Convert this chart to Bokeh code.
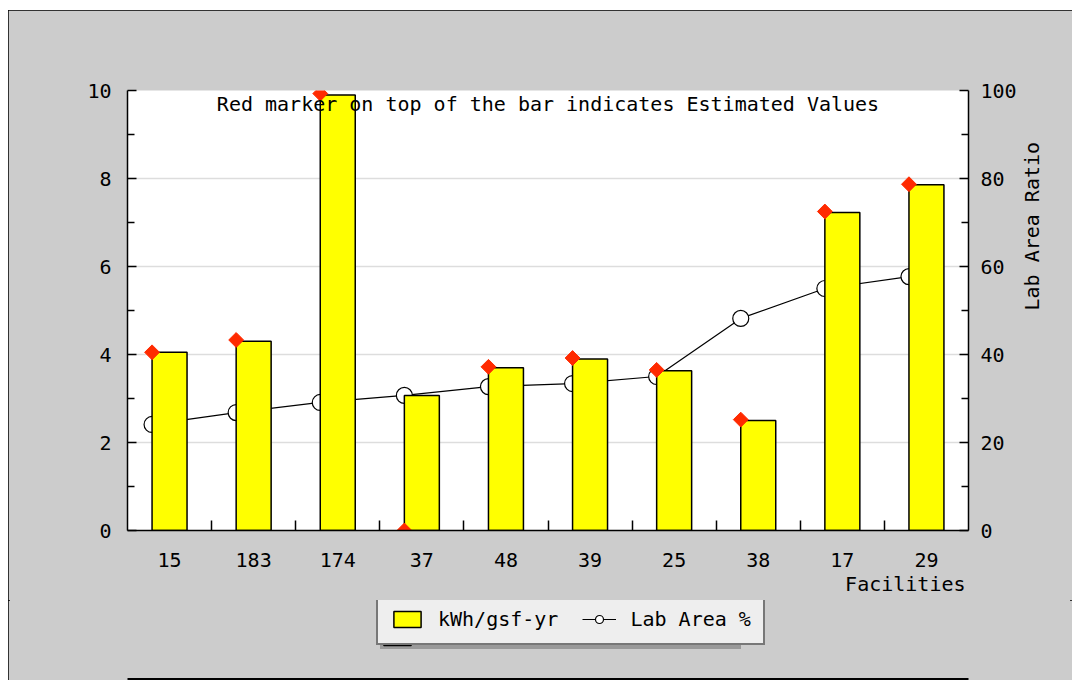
import math
import numpy as np
from bokeh.plotting import figure
from bokeh.layouts import column
from bokeh.models import (Range1d, LinearAxis, FixedTicker, Legend, LegendItem, Label, Title,
                          ColumnDataSource)
from bokeh.embed import file_html
from bokeh.resources import INLINE

# ---- data ----
facilities = ["15", "183", "174", "37", "48", "39", "25", "38", "17", "29"]
kwh_gsf_yr = [4.05, 4.30, 9.90, 3.07, 3.70, 3.90, 3.63, 2.50, 7.23, 7.86]
estimated = [4.05, 4.33, 9.93, 0.00, 3.72, 3.92, 3.65, 2.52, 7.25, 7.87]
lab_area_pct = [24.1, 26.8, 29.1, 30.7, 32.7, 33.4, 35.0, 48.2, 55.0, 57.7]
left_ticks = [0, 2, 4, 6, 8, 10]
left_minor = [1, 3, 5, 7, 9]
right_ticks = [0, 20, 40, 60, 80, 100]
right_minor = [10, 30, 50, 70, 90]

FONT = "DejaVu Sans Mono"
FS = "20px"
BAR_W = 0.416
GRAY = "#cccccc"

n = len(facilities)
centers = np.arange(n) + 0.5
left_edges = centers - BAR_W / 2

src = ColumnDataSource(dict(x=centers, xl=left_edges, kwh=kwh_gsf_yr,
                            est=estimated, lab=lab_area_pct))

p = figure(width=1064, height=590, output_backend="svg", toolbar_location=None,
           x_range=Range1d(0, n), y_range=Range1d(0, 10), frame_width=841, frame_height=440,
           min_border_left=119, min_border_right=104, min_border_top=80, min_border_bottom=70)
p.extra_y_ranges = {"pct": Range1d(0, 100)}
p.border_fill_color = GRAY
p.background_fill_color = "white"
p.outline_line_color = None

# axes
xa = p.xaxis[0]
xa.ticker = FixedTicker(ticks=list(centers), minor_ticks=list(np.arange(1, n)))
xa.major_label_overrides = {float(c): f for c, f in zip(centers, facilities)}
xa.major_tick_in = 0
xa.major_tick_out = 0
xa.minor_tick_in = 10
xa.minor_tick_out = 0
xa.major_label_standoff = 22
ya = p.yaxis[0]
ya.ticker = FixedTicker(ticks=left_ticks, minor_ticks=left_minor)
ya.major_tick_in = 9
ya.major_tick_out = 0
ya.minor_tick_in = 7
ya.minor_tick_out = 0
ya.major_label_standoff = 16

ra = LinearAxis(y_range_name="pct", ticker=FixedTicker(ticks=right_ticks, minor_ticks=right_minor))
ra.major_tick_in = 9
ra.major_tick_out = 0
ra.minor_tick_in = 7
ra.minor_tick_out = 0
ra.major_label_standoff = 12
p.add_layout(ra, "right")

# label-only axis for the right side title
ra2 = LinearAxis(y_range_name="pct", ticker=FixedTicker(ticks=[]), bounds=(0, 61.4),
                 axis_label="Lab Area Ratio")
ra2.axis_line_color = None
ra2.major_tick_in = 0
ra2.major_tick_out = 0
ra2.minor_tick_in = 0
ra2.minor_tick_out = 0
ra2.major_label_standoff = 0
ra2.axis_label_standoff = 12
ra2.axis_label_orientation = math.pi / 2
p.add_layout(ra2, "right")

for ax in (xa, ya, ra, ra2):
    ax.major_tick_line_color = "black"
    ax.minor_tick_line_color = "black"
    ax.major_tick_line_width = 1.5
    ax.minor_tick_line_width = 1.5
    ax.major_label_text_font = FONT
    ax.major_label_text_font_size = FS
    ax.major_label_text_color = "black"
    ax.axis_label_text_font = FONT
    ax.axis_label_text_font_size = FS
    ax.axis_label_text_font_style = "normal"
    ax.axis_label_text_color = "black"
for ax in (xa, ya, ra):
    ax.axis_line_color = "black"
    ax.axis_line_width = 1.5

p.xgrid.visible = False
p.ygrid.ticker = FixedTicker(ticks=[2, 4, 6, 8])
p.ygrid.grid_line_color = "#dddddd"
p.ygrid.grid_line_width = 1.5

# glyphs
p.line("xl", "lab", source=src, y_range_name="pct", line_color="black", line_width=1.2)
p.scatter("xl", "lab", source=src, y_range_name="pct", marker="circle", size=16,
          fill_color="white", line_color="black", line_width=1.2)
p.vbar(x="x", top="kwh", width=BAR_W, source=src, fill_color="#ffff00",
       line_color="black", line_width=1.5)
p.scatter("xl", "est", source=src, marker="square", angle=np.pi / 4, size=10.5,
          fill_color="#ff2a00", line_color="#ff2a00")

# texts
p.add_layout(Label(x=n / 2, y=10, y_offset=-13, text="Red marker on top of the bar indicates Estimated Values",
                   text_align="center", text_baseline="middle", text_font=FONT, text_font_size=FS,
                   text_color="black"))
xtitle = Title(text="Facilities", align="right", offset=3, standoff=0,
               text_font=FONT, text_font_size=FS, text_font_style="normal", text_color="black")
p.add_layout(xtitle, "below")

# ---- legend strip (separate figure so the legend is not clipped by the plot frame) ----
# hidden renderers of the same data: only their legend entries are drawn
lf = figure(width=1064, height=80, output_backend="svg", toolbar_location=None,
            x_axis_type=None, y_axis_type=None, x_range=Range1d(0, n), y_range=Range1d(0, 10),
            min_border_left=0, min_border_right=0, min_border_top=0, min_border_bottom=0)
lf.background_fill_color = None
lf.border_fill_color = GRAY
lf.outline_line_color = None
lg_bar = lf.vbar(x="x", top="kwh", width=BAR_W, source=src, fill_color="#ffff00",
                 line_color="black", line_width=1.5, visible=False)
lg_line = lf.line("xl", "lab", source=src, line_color="black", line_width=1.2, visible=False)
lg_circ = lf.scatter("xl", "lab", source=src, marker="circle", size=16, fill_color="white",
                     line_color="black", line_width=1.2, visible=False)


def make_legend(loc, shadow):
    if shadow:
        labels = ["\u00a0" * 10, "\u00a0" * 10]
    else:
        labels = ["kWh/gsf-yr", "Lab Area %"]
    lg = Legend(items=[LegendItem(label=labels[0], renderers=[lg_bar]),
                       LegendItem(label=labels[1], renderers=[lg_line, lg_circ])],
                orientation="horizontal", location=loc)
    lg.click_policy = "none"
    lg.inactive_fill_alpha = 0
    lg.margin = 0
    lg.padding = 12
    lg.spacing = 24
    lg.label_standoff = 14
    lg.glyph_width = 34
    lg.glyph_height = 20
    lg.label_width = 120
    lg.label_text_font = FONT
    lg.label_text_font_size = FS
    lg.label_text_color = "black"
    lg.background_fill_alpha = 1
    if shadow:
        lg.background_fill_color = "#999999"
        lg.border_line_color = None
    else:
        lg.background_fill_color = "#eeeeee"
        lg.border_line_color = "black"
        lg.border_line_width = 2
    return lg


lf.add_layout(make_legend((253, 31), True))
lf.add_layout(make_legend((249, 35), False))

layout = column(p, lf, spacing=0, width=1064, height=670,
                styles={"margin-left": "8px", "margin-top": "10px", "background-color": GRAY,
                        "outline": "2px solid black", "outline-offset": "-2px"})

open("out.html", "w").write(file_html(layout, INLINE))
